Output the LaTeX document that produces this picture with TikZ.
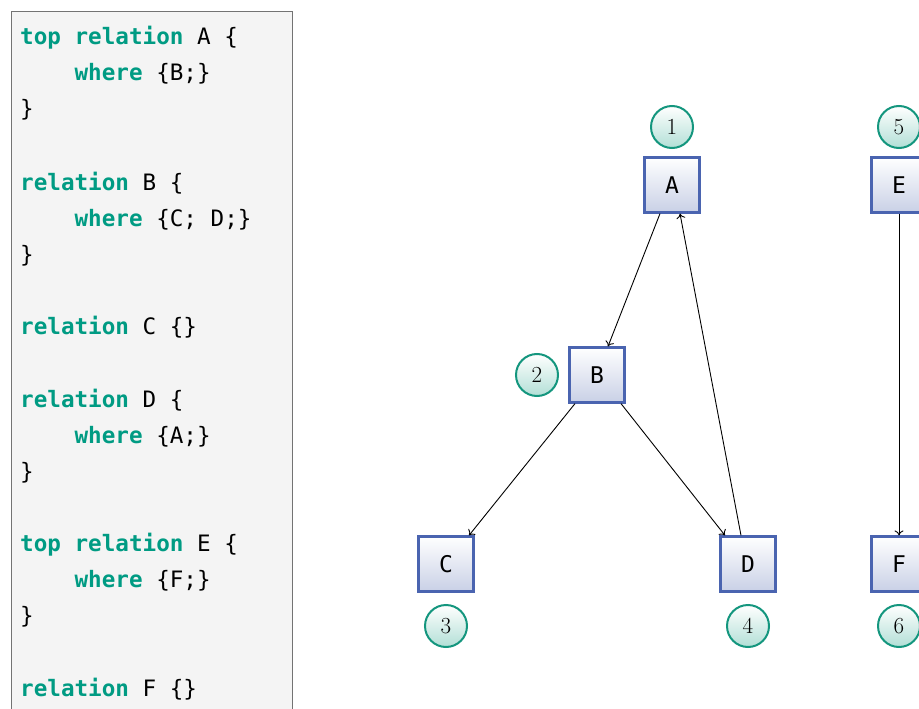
\documentclass[tikz,border=0pt]{standalone}
\usepackage{fontspec}
\setmonofont{DejaVu Sans Mono}
\usetikzlibrary{arrows.meta}
\definecolor{kw}{HTML}{009B83}
\definecolor{codebg}{HTML}{F4F4F4}
\definecolor{boxline}{HTML}{4A64B0}
\definecolor{boxbot}{HTML}{C8D0E6}
\definecolor{circline}{HTML}{14967E}
\definecolor{circbot}{HTML}{B2DFD6}
\newcommand{\kwd}[1]{\textcolor{kw}{\textbf{#1}}}
\begin{document}
\begin{tikzpicture}[x=1pt,y=-1pt,
  codeline/.style={anchor=base west,inner sep=0pt,font=\fontsize{22.6}{26}\selectfont\ttfamily},
  relbox/.style={draw=boxline,line width=2.2pt,minimum size=55pt,inner sep=0pt,
    top color=white,bottom color=boxbot,font=\fontsize{23}{26}\selectfont\ttfamily},
  numcirc/.style={circle,draw=circline,line width=2pt,minimum size=42pt,inner sep=0pt,
    top color=white,bottom color=circbot,font=\fontsize{23}{26}\selectfont},
  conn/.style={-{To[length=5pt,width=9pt]},line width=0.9pt}]
\useasboundingbox (0,0) rectangle (919,709);
% code panel
\path[fill=codebg,draw=gray!90!black,line width=0.8pt] (11,11) rectangle (292,730);
\node[codeline] (l1) at (20,45) {\kwd{top relation} A \{};
\node[codeline] (l2) at (20,81) {\phantom{xxxx}\kwd{where} \{B;\}};
\node[codeline] (l3) at (20,117) {\}};
\node[codeline] (l5) at (20,190) {\kwd{relation} B \{};
\node[codeline] (l6) at (20,226) {\phantom{xxxx}\kwd{where} \{C; D;\}};
\node[codeline] (l7) at (20,262) {\}};
\node[codeline] (l9) at (20,334) {\kwd{relation} C \{\}};
\node[codeline] (l11) at (20,407) {\kwd{relation} D \{};
\node[codeline] (l12) at (20,443) {\phantom{xxxx}\kwd{where} \{A;\}};
\node[codeline] (l13) at (20,479) {\}};
\node[codeline] (l15) at (20,551) {\kwd{top relation} E \{};
\node[codeline] (l16) at (20,587) {\phantom{xxxx}\kwd{where} \{F;\}};
\node[codeline] (l17) at (20,623) {\}};
\node[codeline] (l19) at (20,696) {\kwd{relation} F \{\}};
% graph
\node[relbox] (A) at (672,185) {A};
\node[relbox] (B) at (597,375) {B};
\node[relbox] (C) at (446,564) {C};
\node[relbox] (D) at (748,564) {D};
\node[relbox] (E) at (899,185) {E};
\node[relbox] (F) at (899,564) {F};
\node[numcirc] (n1) at (672,127) {1};
\node[numcirc] (n2) at (537,375) {2};
\node[numcirc] (n3) at (446,626) {3};
\node[numcirc] (n4) at (748,626) {4};
\node[numcirc] (n5) at (899,127) {5};
\node[numcirc] (n6) at (899,626) {6};
\draw[conn] ([xshift=-12pt]A.south) -- ([xshift=11pt]B.north);
\draw[conn] ([xshift=-22pt]B.south) -- ([xshift=23pt]C.north);
\draw[conn] ([xshift=24pt]B.south) -- ([xshift=-23pt]D.north);
\draw[conn] ([xshift=-7pt]D.north) -- ([xshift=8pt]A.south);
\draw[conn] (E.south) -- (F.north);
\end{tikzpicture}
\end{document}
